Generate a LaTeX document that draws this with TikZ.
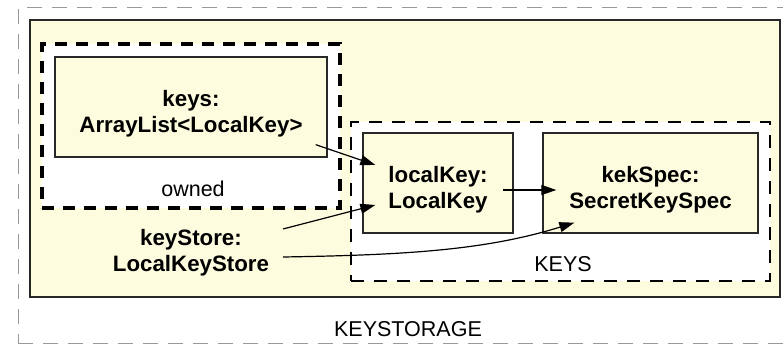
\documentclass[tikz,border=0pt]{standalone}
\usepackage{fontspec}
\setmainfont{Liberation Sans}
\usepackage{xcolor}
\usetikzlibrary{arrows.meta,calc}

\definecolor{noteyellow}{RGB}{254,252,222}
\definecolor{edgegray}{RGB}{40,40,40}
\newcommand{\diagfont}{\fontsize{21.5}{26}\selectfont}
\newcommand{\objfont}{\fontsize{22.3}{26}\selectfont\bfseries}

\tikzset{
  frame/.style = {draw=gray!80, line width=1pt, dash pattern=on 15pt off 10pt, inner sep=0pt},
  package/.style = {draw=edgegray, fill=noteyellow, line width=1.3pt, inner sep=0pt},
  ownedbox/.style = {draw=black, fill=white, line width=4pt, dash pattern=on 12pt off 9pt, inner sep=0pt},
  group/.style = {draw=black, fill=white, line width=1.3pt, dash pattern=on 13pt off 10pt, inner sep=0pt},
  object/.style = {draw=edgegray, fill=noteyellow, line width=1.3pt, inner sep=0pt, align=center,
                   font=\objfont, text height=56pt, text depth=4pt},
  caption/.style = {anchor=base, font=\diagfont},
  link/.style = {-{Triangle[length=15pt,width=10pt]}, line width=1.2pt},
}

\begin{document}
\begin{tikzpicture}[x=1pt, y=-1pt]
\useasboundingbox (0,0) rectangle (783,344);

% containers
\node[frame, minimum width=782pt, minimum height=335pt] (keystorage) at (409,175.5) {};
\node[package, minimum width=750pt, minimum height=277pt] (storage) at (405,158.5) {};
\node[ownedbox, minimum width=298pt, minimum height=164pt] (owned) at (191,126) {};
\node[group, minimum width=419pt, minimum height=159pt] (keysgroup) at (560.5,201.5) {};

% objects
\node[object, minimum width=272pt, minimum height=100pt] (keys) at (191,107) {keys:\\ArrayList<LocalKey>};
\node[object, minimum width=150pt, minimum height=100pt] (localKey) at (438,183) {localKey:\\LocalKey};
\node[object, minimum width=215pt, minimum height=100pt] (kekSpec) at (650.5,183) {kekSpec:\\SecretKeySpec};
\node[object, draw=none, fill=none, inner sep=3pt] (keyStore) at (191,246) {keyStore:\\LocalKeyStore};

% captions
\node[caption] (ownedlabel) at (193,197) {owned};
\node[caption] (keyslabel) at (563,272) {KEYS};
\node[caption] (storagelabel) at (408,336) {KEYSTORAGE};

% links
\draw[link] ($(keys.south east)+(-12,-13)$) -- ($(localKey.west)+(13,-18)$);
\draw[link] ($(keyStore.center)+(92,-17)$) -- ($(localKey.west)+(13,22)$);
\draw[link] ($(keyStore.center)+(92,11)$) .. controls +(120,-2) and +(-90,28) .. ($(kekSpec.south west)+(32,-11)$);
\draw[link] ($(localKey.east)+(-11,7)$) -- ($(kekSpec.west)+(14,7)$);
\end{tikzpicture}
\end{document}
